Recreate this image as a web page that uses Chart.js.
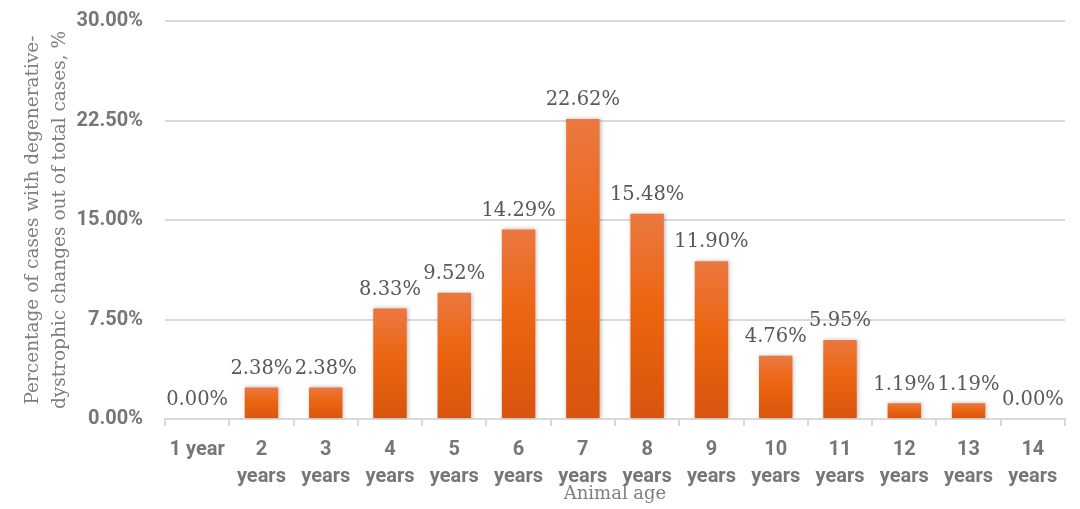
<!DOCTYPE html>
<html>
<head>
<meta charset="utf-8">
<script src="https://cdn.jsdelivr.net/npm/chart.js@4.4.1/dist/chart.umd.min.js"></script>
<style>
  html, body { margin: 0; padding: 0; background: #ffffff; }
  #wrap { width: 1080px; height: 509px; }
</style>
</head>
<body>
<div id="wrap"><canvas id="ageChart" width="1080" height="509"></canvas></div>
<script>
// chart values
var ageLabels = [["1 year"], ["2", "years"], ["3", "years"], ["4", "years"], ["5", "years"], ["6", "years"],
    ["7", "years"], ["8", "years"], ["9", "years"], ["10", "years"], ["11", "years"], ["12", "years"],
    ["13", "years"], ["14", "years"]];
var casePercent = [0.00, 2.38, 2.38, 8.33, 9.52, 14.29, 22.62, 15.48, 11.90, 4.76, 5.95, 1.19, 1.19, 0.00];
var yTicks = [0, 7.5, 15, 22.5, 30];

var tickFont = "'Roboto', sans-serif";
var serifFont = "'DejaVu Serif', serif";

// gradient per bar, lighter at the top
function barFill(context) {
    var chart = context.chart;
    if (!chart.chartArea) return '#E8630F';
    var y = chart.scales.y;
    var top = y.getPixelForValue(context.raw);
    var base = y.getPixelForValue(0);
    if (base - top < 1) return '#E8630F';
    var g = chart.ctx.createLinearGradient(0, top, 0, base);
    g.addColorStop(0, '#EB7840');
    g.addColorStop(0.45, '#EC6510');
    g.addColorStop(1, '#D9540E');
    return g;
}

var barShadow = {
    id: 'barShadow',
    beforeDatasetsDraw: function(chart) {
        var ctx = chart.ctx;
        ctx.save();
        ctx.shadowColor = 'rgba(0,0,0,0.28)';
        ctx.shadowBlur = 4;
        ctx.shadowOffsetX = 1;
        ctx.shadowOffsetY = 0;
    },
    afterDatasetsDraw: function(chart) {
        chart.ctx.restore();
    }
};

var valueLabels = {
    id: 'valueLabels',
    afterDraw: function(chart) {
        var ctx = chart.ctx;
        var meta = chart.getDatasetMeta(0);
        ctx.save();
        ctx.font = "19.5px " + serifFont;
        ctx.fillStyle = '#595959';
        ctx.textAlign = 'center';
        ctx.textBaseline = 'bottom';
        meta.data.forEach(function(bar, i) {
            ctx.fillText(casePercent[i].toFixed(2) + '%', bar.x, bar.y - 9);
        });
        ctx.restore();
    }
};

var ctx1 = document.getElementById("ageChart").getContext('2d');

var ageChart = new Chart(ctx1, {
    type: 'bar',
    data: {
        labels: ageLabels,
        datasets: [{
            label: 'Cases',
            data: casePercent,
            backgroundColor: barFill,
            borderWidth: 0,
            barPercentage: 0.52,
            categoryPercentage: 1.0
        }]
    },
    options: {
        responsive: false,
        animation: false,
        layout: { padding: { left: 0, right: 15, top: 21, bottom: 0 } },
        plugins: {
            legend: { display: false },
            tooltip: { enabled: false }
        },
        scales: {
            x: {
                afterFit: function(scale) {
                    scale.height = 90;
                    scale.paddingLeft = 0;
                    scale.paddingRight = 0;
                },
                grid: {
                    display: true,
                    drawOnChartArea: false,
                    drawTicks: true,
                    tickLength: 7,
                    color: '#D9D9D9',
                    lineWidth: 2
                },
                border: { display: true, color: '#D9D9D9', width: 2 },
                ticks: {
                    color: '#767676',
                    font: { family: tickFont, size: 20, weight: 'bold', lineHeight: 1.35 },
                    padding: 10,
                    maxRotation: 0,
                    autoSkip: false
                },
                title: {
                    display: true,
                    text: 'Animal age',
                    color: '#7F7F7F',
                    font: { family: serifFont, size: 18 },
                    padding: { top: 0, bottom: 4 }
                }
            },
            y: {
                min: 0,
                max: 30,
                afterFit: function(scale) {
                    scale.width = 165;
                    scale.paddingTop = 0;
                    scale.paddingBottom = 0;
                },
                afterBuildTicks: function(scale) {
                    scale.ticks = yTicks.map(function(v) { return { value: v }; });
                },
                grid: {
                    color: '#D9D9D9',
                    lineWidth: 2,
                    drawTicks: false
                },
                border: { display: false },
                ticks: {
                    color: '#767676',
                    font: { family: tickFont, size: 20, weight: 'bold' },
                    padding: 22,
                    callback: function(v) { return v.toFixed(2) + '%'; }
                },
                title: {
                    display: true,
                    text: ['Percentage of cases with degenerative-', 'dystrophic changes out of total cases, %'],
                    color: '#7F7F7F',
                    font: { family: serifFont, size: 18.5, lineHeight: 1.45 },
                    padding: { top: 20, bottom: 4 }
                }
            }
        }
    },
    plugins: [barShadow, valueLabels]
});
</script>
</body>
</html>
